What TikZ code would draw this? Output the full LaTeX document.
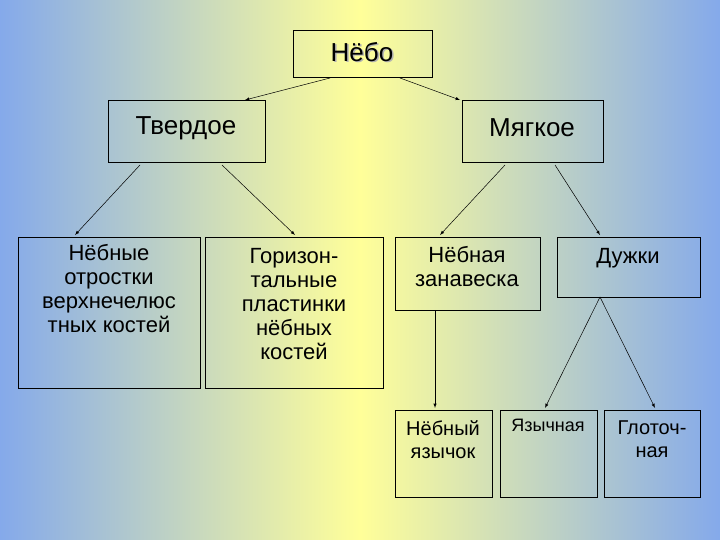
\documentclass[tikz,border=0pt]{standalone}
\usepackage{fontspec}
\setmainfont{Liberation Sans}
\begin{document}
\begin{tikzpicture}[x=1pt,y=-1pt,
  bx/.style={draw=black,line width=0.7pt},
  ar/.style={-latex,line width=0.5pt},
  big/.style={font=\fontsize{26}{28}\selectfont},
  mid/.style={font=\fontsize{22}{24}\selectfont,align=center},
  sm/.style={font=\fontsize{20}{23}\selectfont,align=center}]
\useasboundingbox (0,0) rectangle (720,540);
\begin{scope}
\clip (0,0) rectangle (720,540);
\shade[shading angle=45,left color=cyan!30!blue!60!white,right color=cyan!30!blue!60!white,middle color=yellow!40!white] (-90,-180) rectangle (810,720);
\end{scope}
\draw[bx] (293,30) rectangle (432,77);
\node[big,text=gray!60] at (363.5,53.5) {Нёбо};
\node[big] (nebo) at (362,52) {Нёбо};
\draw[bx] (108,100) rectangle (265,162);
\node[big] (tv) at (186,128) {Твердое};
\draw[bx] (462,100) rectangle (603,162);
\node[big] (mg) at (532,128) {Мягкое};
\draw[bx] (18,237) rectangle (200,388);
\node[mid,anchor=north] (a1) at (109,241) {Нёбные\\отростки\\верхнечелюс\\тных костей};
\draw[bx] (205,237) rectangle (383,388);
\node[mid,anchor=north] (a2) at (294,245) {Горизон-\\тальные\\пластинки\\нёбных\\костей};
\draw[bx] (395,237) rectangle (540,310);
\node[mid,anchor=north] (a3) at (467,243) {Нёбная\\занавеска};
\draw[bx] (557,237) rectangle (700,297);
\node[mid,anchor=north] (a4) at (628,245) {Дужки};
\draw[bx] (395,410) rectangle (492,497);
\node[sm,anchor=north] (b1) at (443,417) {Нёбный\\язычок};
\draw[bx] (500,410) rectangle (597,497);
\node[font=\fontsize{18}{20}\selectfont,anchor=north] (b2) at (548,416) {Язычная};
\draw[bx] (604,410) rectangle (700,497);
\node[sm,anchor=north] (b3) at (652,417) {Глоточ-\\ная};
\coordinate (p1) at (330,78); \coordinate (q1) at (245,100);
\coordinate (p2) at (400,78); \coordinate (q2) at (460,100);
\draw[ar] (p1) -- (q1); \draw[ar] (p2) -- (q2);
\coordinate (p3) at (140,165); \coordinate (q3) at (75,235);
\coordinate (p4) at (222,165); \coordinate (q4) at (295,235);
\draw[ar] (p3) -- (q3); \draw[ar] (p4) -- (q4);
\coordinate (p5) at (505,165); \coordinate (q5) at (440,235);
\coordinate (p6) at (555,165); \coordinate (q6) at (600,235);
\draw[ar] (p5) -- (q5); \draw[ar] (p6) -- (q6);
\coordinate (p7) at (435,310); \coordinate (q7) at (435,408);
\draw[ar] (p7) -- (q7);
\coordinate (p8) at (600,297); \coordinate (q8) at (545,408); \coordinate (q9) at (655,408);
\draw[ar] (p8) -- (q8); \draw[ar] (p8) -- (q9);
\end{tikzpicture}
\end{document}
